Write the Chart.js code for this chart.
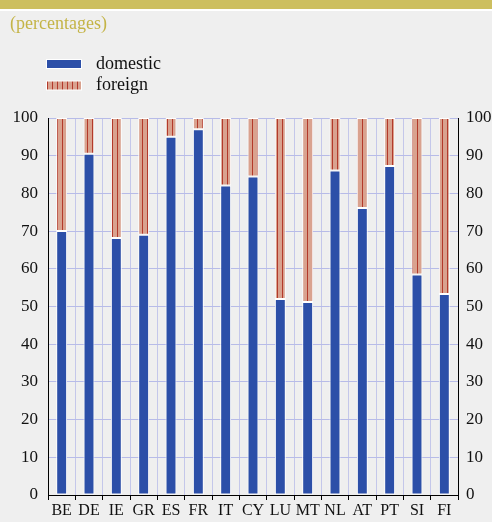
<!DOCTYPE html>
<html>
<head>
<meta charset="utf-8">
<script src="https://cdn.jsdelivr.net/npm/chart.js@4/dist/chart.umd.min.js"></script>
<style>
  html, body { margin: 0; padding: 0; background: #efefef; }
  #wrap { position: relative; width: 492px; height: 522px; overflow: hidden; }
  #topbar { position: absolute; left: 0; top: 0; width: 492px; height: 9px; background: #cdbf5f; border-bottom: 2px solid #fff; }
  #chart { position: absolute; left: 0; top: 0; }
</style>
</head>
<body>
<div id="wrap">
  <div id="topbar"></div>
  <canvas id="chart" width="492" height="522"></canvas>
</div>
<script>
const countries = ["BE", "DE", "IE", "GR", "ES", "FR", "IT", "CY", "LU", "MT", "NL", "AT", "PT", "SI", "FI"];
const domestic = [70.0, 90.5, 68.2, 69.0, 95.0, 97.0, 82.1, 84.5, 52.0, 51.2, 86.1, 76.1, 87.3, 58.5, 53.3];
const foreign = domestic.map(v => +(100 - v).toFixed(1));
const seriesNames = ["domestic", "foreign"];
const yTicks = [0, 10, 20, 30, 40, 50, 60, 70, 80, 90, 100];

const serif = "'Liberation Serif', 'Times New Roman', serif";

// vertical dark red stripes on salmon, like the hatched "foreign" fill
function stripes(ctx) {
  const c = document.createElement("canvas");
  c.width = 5;
  c.height = 4;
  const g = c.getContext("2d");
  g.fillStyle = "#d9a28f";
  g.fillRect(0, 0, 5, 4);
  g.fillStyle = "#b3392a";
  g.fillRect(2, 0, 1, 4);
  return ctx.createPattern(c, "repeat");
}

const canvas = document.getElementById("chart");
const ctx = canvas.getContext("2d");

/**
 * Title and a stacked legend in the top left corner
 */
const headerPlugin = {
  id: "header",
  afterDraw(chart) {
    const c = chart.ctx;
    c.save();
    c.textBaseline = "alphabetic";
    c.font = "18px " + serif;
    c.fillStyle = "#c4b446";
    c.fillText("(percentages)", 10, 29);
    chart.data.datasets.forEach((ds, i) => {
      const y = 64 + i * 21.5;
      c.fillStyle = "#ffffff";
      c.fillRect(46, y - 5, 36, 10);
      c.fillStyle = ds.backgroundColor;
      c.fillRect(47, y - 4, 34, 8);
      c.fillStyle = "#111111";
      c.font = "18px " + serif;
      c.fillText(ds.label, 96, y + 4.5);
    });
    c.restore();
  },
};

const tickFont = { family: serif, size: 17 };

let myChart = new Chart(canvas, {
  type: "bar",
  plugins: [headerPlugin],
  data: {
    labels: countries,
    datasets: [
      {
        label: seriesNames[0],
        data: domestic,
        backgroundColor: "#2c4fa8",
        borderColor: "#ffffff",
        borderWidth: 1,
        borderSkipped: false,
      },
      {
        label: seriesNames[1],
        data: foreign,
        backgroundColor: stripes(ctx),
        borderColor: "#ffffff",
        borderWidth: 1,
        borderSkipped: false,
      },
    ],
  },
  options: {
    responsive: false,
    animation: false,
    devicePixelRatio: 1,
    layout: { padding: { top: 118, left: 0, right: 0, bottom: 0 } },
    datasets: { bar: { categoryPercentage: 1, barPercentage: 0.4 } },
    plugins: {
      legend: { display: false },
      tooltip: { enabled: false },
    },
    scales: {
      x: {
        stacked: true,
        grid: { offset: true, color: "#c4c7ea", tickColor: "#000000", tickLength: 5 },
        border: { display: true, color: "#000000" },
        ticks: { font: { family: serif, size: 16 }, color: "#111111", padding: 1, maxRotation: 0, autoSkip: false },
        afterFit: (s) => { s.height = 27; },
      },
      y: {
        stacked: true,
        min: 0,
        max: 100,
        afterBuildTicks: (s) => { s.ticks = yTicks.map(v => ({ value: v })); },
        grid: { color: "#b7bbe8", drawTicks: false },
        border: { display: true, color: "#000000" },
        ticks: { font: tickFont, color: "#111111", padding: 10 },
        afterFit: (s) => { s.width = 48; },
      },
      y2: {
        position: "right",
        min: 0,
        max: 100,
        afterBuildTicks: (s) => { s.ticks = yTicks.map(v => ({ value: v })); },
        grid: { display: false, drawTicks: false },
        border: { display: true, color: "#000000" },
        ticks: { font: tickFont, color: "#111111", padding: 8 },
        afterFit: (s) => { s.width = 34; },
      },
    },
  },
});
</script>
</body>
</html>
